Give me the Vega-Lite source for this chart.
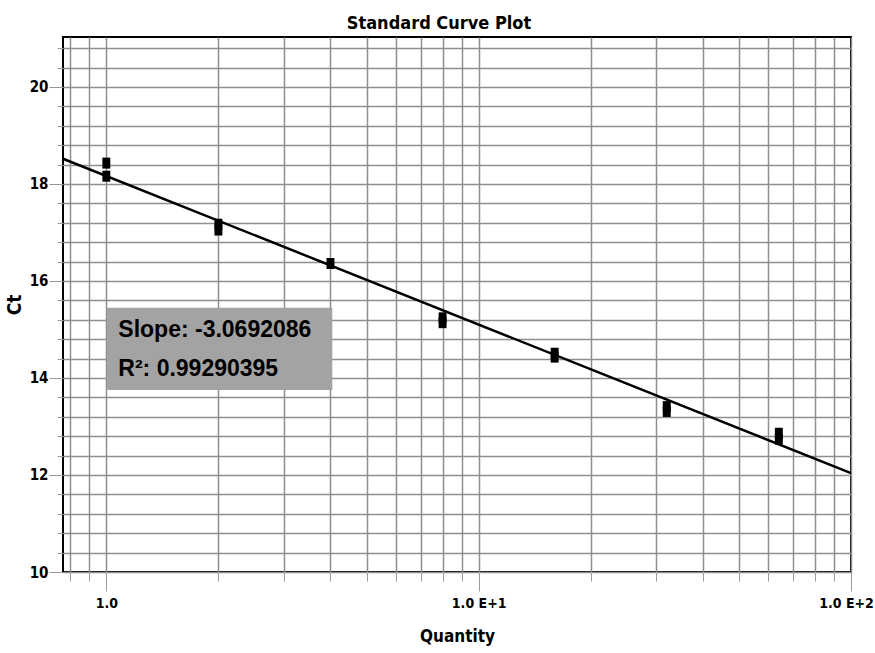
{
  "$schema": "https://vega.github.io/schema/vega-lite/v6.json",
  "width": 788,
  "height": 535,
  "autosize": {"type": "none"},
  "padding": {"left": 63, "top": 37, "right": 24, "bottom": 81},
  "background": "white",
  "title": {
    "text": "Standard Curve Plot",
    "font": "'DejaVu Sans Condensed', 'Liberation Sans', sans-serif",
    "fontSize": 18,
    "fontWeight": "bold",
    "color": "black",
    "dx": -18,
    "offset": 4
  },
  "config": {
    "view": {"stroke": "black", "strokeWidth": 2},
    "axis": {"domain": false}
  },
  "encoding": {
    "x": {
      "field": "q",
      "type": "quantitative",
      "scale": {"type": "log", "domain": [0.765, 100], "nice": false},
      "axis": {
        "title": "Quantity",
        "titleFont": "'DejaVu Sans Condensed', 'Liberation Sans', sans-serif",
        "titleFontSize": 17,
        "titleFontWeight": "bold",
        "titleColor": "black",
        "titlePadding": 18,
        "values": [0.8, 0.9, 1, 2, 3, 4, 5, 6, 7, 8, 9, 10, 20, 30, 40, 50, 60, 70, 80, 90, 100],
        "labelExpr": "datum.value === 1 ? '1.0' : datum.value === 10 ? '1.0 E+1' : datum.value === 100 ? '1.0 E+2' : ''",
        "labelOverlap": false,
        "labelFlush": false,
        "labelFont": "'DejaVu Sans Condensed', 'Liberation Sans', sans-serif",
        "labelFontSize": 14,
        "labelFontWeight": "bold",
        "labelColor": "black",
        "labelPadding": 5,
        "labelOffset": {"condition": {"test": "datum.value === 100", "value": -5}, "value": 0},
        "grid": true,
        "gridColor": "#8f8f8f",
        "gridWidth": 1.5,
        "tickColor": "#9a9a9a",
        "tickWidth": 1,
        "tickSize": {"condition": {"test": "datum.value === 1 || datum.value === 10 || datum.value === 100", "value": 19}, "value": 9}
      }
    },
    "y": {
      "field": "ct",
      "type": "quantitative",
      "scale": {"domain": [10, 21.03], "nice": false, "zero": false},
      "axis": {
        "title": "Ct",
        "titleFont": "'DejaVu Sans Condensed', 'Liberation Sans', sans-serif",
        "titleFontSize": 19,
        "titleFontWeight": "bold",
        "titleColor": "black",
        "titlePadding": 5,
        "values": [10, 10.4, 10.8, 11.2, 11.6, 12, 12.4, 12.8, 13.2, 13.6, 14, 14.4, 14.8, 15.2, 15.6, 16, 16.4, 16.8, 17.2, 17.6, 18, 18.4, 18.8, 19.2, 19.6, 20, 20.4, 20.8],
        "labelExpr": "datum.value % 2 === 0 ? format(datum.value, 'd') : ''",
        "labelOverlap": false,
        "labelFlush": false,
        "labelFont": "'DejaVu Sans Condensed', 'Liberation Sans', sans-serif",
        "labelFontSize": 15,
        "labelFontWeight": "bold",
        "labelColor": "black",
        "labelPadding": 1,
        "grid": true,
        "gridColor": "#8f8f8f",
        "gridWidth": 1.5,
        "tickColor": "#9a9a9a",
        "tickWidth": 1,
        "tickSize": {"condition": {"test": "datum.value % 2 === 0", "value": 14}, "value": 6}
      }
    }
  },
  "layer": [
    {
      "data": {"values": [{"q": 0.765, "ct": 18.52}, {"q": 100, "ct": 12.04}]},
      "mark": {"type": "line", "color": "black", "strokeWidth": 2.5},
      "encoding": {}
    },
    {
      "data": {"values": [
        {"q": 1, "ct": 18.43}, {"q": 1, "ct": 18.16},
        {"q": 2, "ct": 17.17}, {"q": 2, "ct": 17.05},
        {"q": 4, "ct": 16.36},
        {"q": 8, "ct": 15.24}, {"q": 8, "ct": 15.14},
        {"q": 16, "ct": 14.51}, {"q": 16, "ct": 14.43},
        {"q": 32, "ct": 13.41}, {"q": 32, "ct": 13.31},
        {"q": 64, "ct": 12.86}, {"q": 64, "ct": 12.74}
      ]},
      "mark": {
        "type": "point",
        "filled": true,
        "shape": "M-0.72,-1H0.72V1H-0.72Z",
        "size": 121,
        "color": "black",
        "opacity": 1
      }
    },
    {
      "data": {"values": [{"q": 1.004, "q2": 4.045, "ct": 13.75, "ct2": 15.45}]},
      "mark": {"type": "rect", "fill": "#a3a3a3"},
      "encoding": {
        "x2": {"field": "q2"},
        "y2": {"field": "ct2"}
      }
    },
    {
      "data": {"values": [
        {"q": 1.077, "ct": 14.845, "t": "Slope: -3.0692086"},
        {"q": 1.077, "ct": 14.04, "t": "R²: 0.99290395"}
      ]},
      "mark": {
        "type": "text",
        "align": "left",
        "baseline": "alphabetic",
        "font": "Liberation Sans",
        "fontSize": 23,
        "fontWeight": "bold",
        "color": "black"
      },
      "encoding": {"text": {"field": "t"}}
    }
  ]
}
